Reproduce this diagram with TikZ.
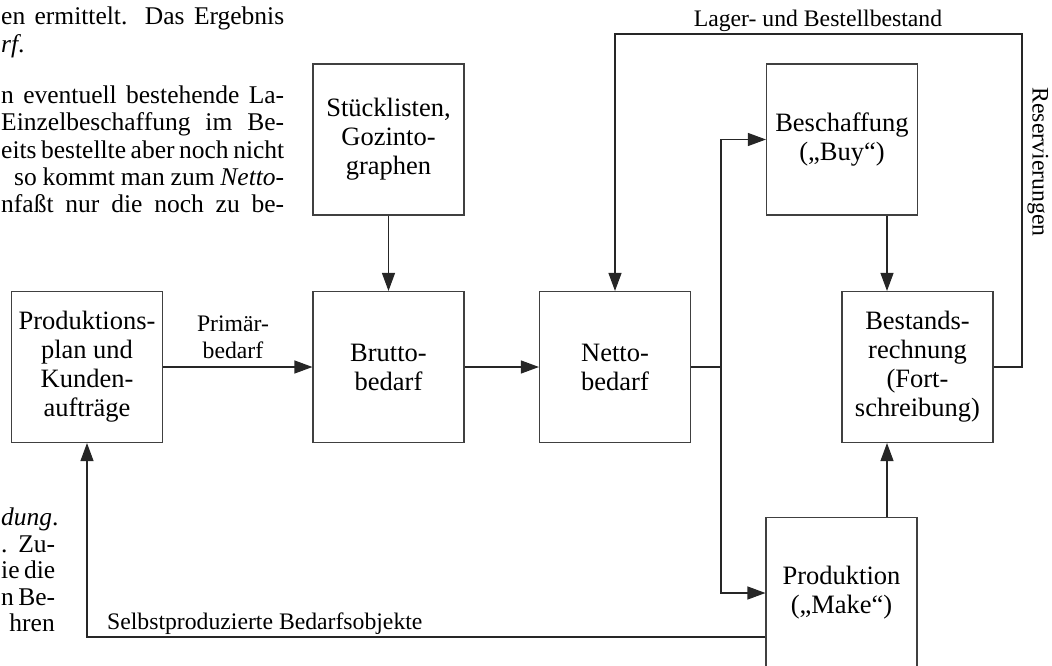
\documentclass[tikz,border=0pt]{standalone}
\usepackage{fontspec}
\setmainfont{Liberation Serif}
\usetikzlibrary{arrows.meta}
\newcommand{\jline}[2]{\hbox to #1{\spaceskip=0.25em plus 2em minus 0.1em #2}}
\tikzset{
  boxnode/.style={draw=black!75, line width=1.1pt, rectangle, minimum width=151pt, minimum height=151pt, inner sep=0pt, align=center, font=\fontsize{26.5}{29}\selectfont},
  lbl/.style={inner sep=0pt, align=center, font=\fontsize{23.7}{27}\selectfont},
  para/.style={inner sep=0pt, font=\fontsize{25.5}{27}\selectfont},
  conn/.style={line width=1.1pt, draw=black!85},
  arr/.style={conn, -{Triangle[length=18pt, width=13pt]}}
}
\begin{document}
\begin{tikzpicture}[x=1pt, y=-1pt]
\useasboundingbox (0,0) rectangle (1052,666);
% surrounding page text fragments
\node[para, anchor=base west] (t1) at (1,25) {\jline{283pt}{en ermittelt. Das Ergebnis}};
\node[para, anchor=base west] (t2) at (1,53) {\itshape rf\upshape.};
\node[para, anchor=base west] (t3) at (1,104) {\jline{283pt}{n eventuell bestehende La-}};
\node[para, anchor=base west] (t4) at (1,131) {\jline{283pt}{Einzelbeschaffung im Be-}};
\node[para, anchor=base west] (t5) at (1,158) {\jline{283pt}{eits bestellte aber noch nicht}};
\node[para, anchor=base west] (t6) at (14,185) {\jline{270pt}{so kommt man zum \textit{Netto}-}};
\node[para, anchor=base west] (t7) at (1,212) {\jline{283pt}{nfaßt nur die noch zu be-}};
\node[para, anchor=base west] (b1) at (1,525) {\itshape dung\upshape.};
\node[para, anchor=base west] (b2) at (1,552) {\jline{54pt}{. Zu-}};
\node[para, anchor=base west] (b3) at (1,578) {\jline{54pt}{ie die}};
\node[para, anchor=base west] (b4) at (1,605) {\jline{54pt}{n Be-}};
\node[para, anchor=base east] (b5) at (55,631) {hren};
% boxes
\node[boxnode] (prod) at (87,367) {Produktions-\\plan und\\Kunden-\\aufträge};
\node[boxnode] (stueck) at (388.5,139.5) {Stücklisten,\\Gozinto-\\graphen};
\node[boxnode] (brutto) at (388.5,367) {Brutto-\\bedarf};
\node[boxnode] (netto) at (615,367) {Netto-\\bedarf};
\node[boxnode] (besch) at (842,139.5) {Beschaffung\\(„Buy“)};
\node[boxnode] (bestand) at (917.5,367) {Bestands-\\rechnung\\(Fort-\\schreibung)};
\node[boxnode] (produktion) at (841.5,593) {Produktion\\(„Make“)};
% labels
\node[lbl] (lprim) at (233,337) {Primär-\\bedarf};
\node[lbl, anchor=base] (llager) at (818,27) {Lager- und Bestellbestand};
\node[lbl, rotate=-90] (lres) at (1038,162) {Reservierungen};
\node[lbl, anchor=base west] (lself) at (107,629) {Selbstproduzierte Bedarfsobjekte};
% helper coordinates
\coordinate (j) at (721,367);
\coordinate (bx) at (887,0);
\coordinate (r1) at (1022,34);
\coordinate (r2) at (615,34);
\coordinate (s1) at (87,637);
% connectors
\draw[arr] (prod) -- (brutto);
\draw[arr] (stueck) -- (brutto);
\draw[arr] (brutto) -- (netto);
\draw[conn] (netto.east) -- (j);
\draw[arr] (j) |- (besch.west);
\draw[arr] (j) |- (produktion.west);
\draw[arr] (besch.south -| bx) -- (bestand.north -| bx);
\draw[arr] (produktion.north -| bx) -- (bestand.south -| bx);
\draw[arr] (bestand.east) -| (r1) -- (r2) -- (netto.north);
\draw[arr] (produktion.west |- s1) -- (s1) -- (prod.south);
\end{tikzpicture}
\end{document}
